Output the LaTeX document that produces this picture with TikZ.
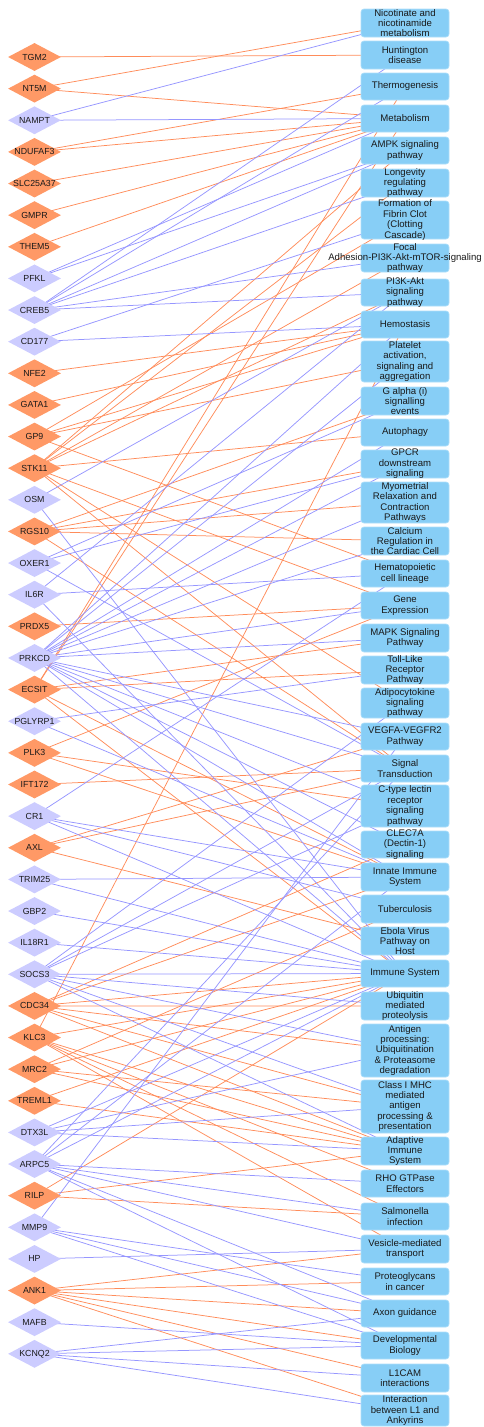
\documentclass[tikz,border=0pt]{standalone}
\usepackage{fontspec}
\setmainfont{Liberation Sans}
\usetikzlibrary{shapes.geometric}
\pgfdeclarelayer{links}
\pgfsetlayers{links,main}
\definecolor{geneorange}{RGB}{255,153,102}
\definecolor{genelav}{RGB}{204,204,255}
\definecolor{boxblue}{RGB}{135,206,246}
\definecolor{boxrim}{RGB}{172,222,250}
\definecolor{linkorange}{RGB}{255,140,90}
\definecolor{linkblue}{RGB}{150,150,255}
\definecolor{inkgray}{RGB}{25,25,25}
\begin{document}
\begin{tikzpicture}[x=1pt,y=-1pt,
  gene/.style={diamond, inner sep=0pt, minimum width=53pt, minimum height=28pt,
    text=inkgray, font=\fontsize{8.8}{10}\selectfont},
  geneO/.style={gene, fill=geneorange},
  geneP/.style={gene, fill=genelav},
  pbox/.style={rectangle, rounded corners=3pt, fill=boxblue, draw=boxrim,
    line width=0.7pt, minimum width=88pt, inner sep=0pt},
  ptext/.style={align=center, inner sep=0pt, text=inkgray,
    font=\fontsize{9.6}{10.4}\selectfont},
  linkO/.style={draw=linkorange, line width=0.75pt},
  linkP/.style={draw=linkblue, line width=0.75pt}]
\useasboundingbox (0,0) rectangle (483,1427);

% genes, top to bottom
\foreach \g/\c [count=\i from 0] in {TGM2/O, NT5M/O, NAMPT/P, NDUFAF3/O, SLC25A37/O,
  GMPR/O, THEM5/O, PFKL/P, CREB5/P, CD177/P, NFE2/O, GATA1/O, GP9/O, STK11/O,
  OSM/P, RGS10/O, OXER1/P, IL6R/P, PRDX5/O, PRKCD/P, ECSIT/O, PGLYRP1/P, PLK3/O,
  IFT172/O, CR1/P, AXL/O, TRIM25/P, GBP2/P, IL18R1/P, SOCS3/P, CDC34/O, KLC3/O,
  MRC2/O, TREML1/O, DTX3L/P, ARPC5/P, RILP/O, MMP9/P, HP/P, ANK1/O, MAFB/P, KCNQ2/P}
  \node[gene\c] (\g) at (34.5,{57+31.63*\i}) {\makebox[0pt]{\g}};

% pathway boxes: name / centre y / height / label
\foreach \p/\yy/\hh/\t in {
  nic/23/28/{Nicotinate and\\nicotinamide\\metabolism},
  hunt/55/28/{Huntington\\disease},
  thermo/86.5/27/{Thermogenesis},
  metab/118.5/27/{Metabolism},
  ampk/150.5/27/{AMPK signaling\\pathway},
  longev/183/28/{Longevity\\regulating\\pathway},
  fibrin/220/38/{Formation of\\Fibrin Clot\\(Clotting\\Cascade)},
  focal/258/28/{Focal\\Adhesion-PI3K-Akt-mTOR-signaling\\pathway},
  pik/292.5/27/{PI3K-Akt\\signaling\\pathway},
  hemo/324.5/27/{Hemostasis},
  platelet/361.5/41/{Platelet\\activation,\\signaling and\\aggregation},
  galphai/401/28/{G alpha (i)\\signalling\\events},
  autoph/432.5/27/{Autophagy},
  gpcr/464/28/{GPCR\\downstream\\signaling},
  myomet/502.5/41/{Myometrial\\Relaxation and\\Contraction\\Pathways},
  calcium/541/28/{Calcium\\Regulation in\\the Cardiac Cell},
  hemato/573.5/27/{Hematopoietic\\cell lineage},
  geneexp/605.5/27/{Gene\\Expression},
  mapk/638/28/{MAPK Signaling\\Pathway},
  tlr/670/28/{Toll-Like\\Receptor\\Pathway},
  adipo/703/30/{Adipocytokine\\signaling\\pathway},
  vegfa/736.5/27/{VEGFA-VEGFR2\\Pathway},
  sigtrans/768.5/27/{Signal\\Transduction},
  ctype/806/42/{C-type lectin\\receptor\\signaling\\pathway},
  clec/844.5/27/{CLEC7A\\(Dectin-1)\\signaling},
  innate/877/28/{Innate Immune\\System},
  tb/909/28/{Tuberculosis},
  ebola/941/28/{Ebola Virus\\Pathway on\\Host},
  immune/973.5/27/{Immune System},
  ubiq/1006/28/{Ubiquitin\\mediated\\proteolysis},
  antigen/1050.5/53/{Antigen\\processing:\\Ubiquitination\\\& Proteasome\\degradation},
  mhc/1106.5/53/{Class I MHC\\mediated\\antigen\\processing \&\\presentation},
  adaptive/1151/28/{Adaptive\\Immune\\System},
  rho/1183.5/27/{RHO GTPase\\Effectors},
  salm/1216.5/27/{Salmonella\\infection},
  vesicle/1249/28/{Vesicle-mediated\\transport},
  proteo/1281.5/27/{Proteoglycans\\in cancer},
  axon/1313.5/27/{Axon guidance},
  devbio/1345.5/27/{Developmental\\Biology},
  lcam/1378/28/{L1CAM\\interactions},
  lank/1410.5/31/{Interaction\\between L1 and\\Ankyrins}}
{
  \node[pbox, minimum height=\hh pt] (\p) at (405,\yy) {};
  \node[ptext] (\p-t) at (\p.center) {\t};
}

% gene-pathway links, kept under the nodes
\begin{pgfonlayer}{links}
\foreach \g/\p in {TGM2/hunt, NT5M/nic, NT5M/metab, NDUFAF3/thermo, NDUFAF3/metab,
  SLC25A37/metab, GMPR/metab, THEM5/metab, NFE2/hemo, GATA1/hemo,
  GP9/fibrin, GP9/hemo, GP9/platelet, GP9/hemato,
  STK11/ampk, STK11/longev, STK11/focal, STK11/pik, STK11/autoph, STK11/geneexp,
  STK11/adipo, STK11/sigtrans,
  RGS10/galphai, RGS10/gpcr, RGS10/myomet, RGS10/calcium, RGS10/sigtrans,
  PRDX5/geneexp,
  ECSIT/thermo, ECSIT/metab, ECSIT/mapk, ECSIT/tlr, ECSIT/innate, ECSIT/immune,
  PLK3/geneexp, PLK3/ctype, PLK3/innate, IFT172/sigtrans,
  AXL/vegfa, AXL/sigtrans, AXL/ebola,
  CDC34/clec, CDC34/innate, CDC34/immune, CDC34/ubiq, CDC34/antigen, CDC34/mhc,
  CDC34/adaptive,
  KLC3/hemo, KLC3/immune, KLC3/adaptive, KLC3/rho, KLC3/salm, KLC3/vesicle,
  MRC2/tb, MRC2/immune, MRC2/mhc, MRC2/adaptive,
  TREML1/immune, TREML1/adaptive,
  RILP/immune, RILP/adaptive, RILP/salm,
  ANK1/vesicle, ANK1/proteo, ANK1/axon, ANK1/devbio, ANK1/lcam, ANK1/lank}
  \draw[linkO] (\g.center) -- (\p.center);
\foreach \g/\p in {NAMPT/nic, NAMPT/metab, PFKL/metab, PFKL/ampk,
  CREB5/hunt, CREB5/thermo, CREB5/ampk, CREB5/longev, CREB5/focal, CREB5/pik,
  CD177/fibrin, CD177/hemo, OSM/pik, OSM/immune,
  OXER1/galphai, OXER1/gpcr, OXER1/sigtrans,
  IL6R/pik, IL6R/hemato, IL6R/immune,
  PRKCD/autoph, PRKCD/hemo, PRKCD/platelet, PRKCD/gpcr, PRKCD/myomet,
  PRKCD/calcium, PRKCD/geneexp, PRKCD/mapk, PRKCD/vegfa, PRKCD/sigtrans,
  PRKCD/ctype, PRKCD/clec, PRKCD/innate, PRKCD/immune,
  PGLYRP1/tlr, PGLYRP1/innate,
  CR1/hemato, CR1/innate, CR1/tb, CR1/immune,
  TRIM25/innate, TRIM25/immune, GBP2/immune, IL18R1/immune,
  SOCS3/adipo, SOCS3/ctype, SOCS3/sigtrans, SOCS3/immune, SOCS3/ubiq,
  SOCS3/antigen, SOCS3/mhc, SOCS3/adaptive,
  DTX3L/antigen, DTX3L/mhc, DTX3L/adaptive, DTX3L/immune,
  ARPC5/sigtrans, ARPC5/innate, ARPC5/immune, ARPC5/rho, ARPC5/salm,
  ARPC5/vesicle, ARPC5/axon, ARPC5/devbio,
  MMP9/vegfa, MMP9/proteo, MMP9/axon, MMP9/devbio,
  HP/vesicle, MAFB/devbio,
  KCNQ2/axon, KCNQ2/devbio, KCNQ2/lcam, KCNQ2/lank}
  \draw[linkP] (\g.center) -- (\p.center);
\end{pgfonlayer}
\end{tikzpicture}
\end{document}
